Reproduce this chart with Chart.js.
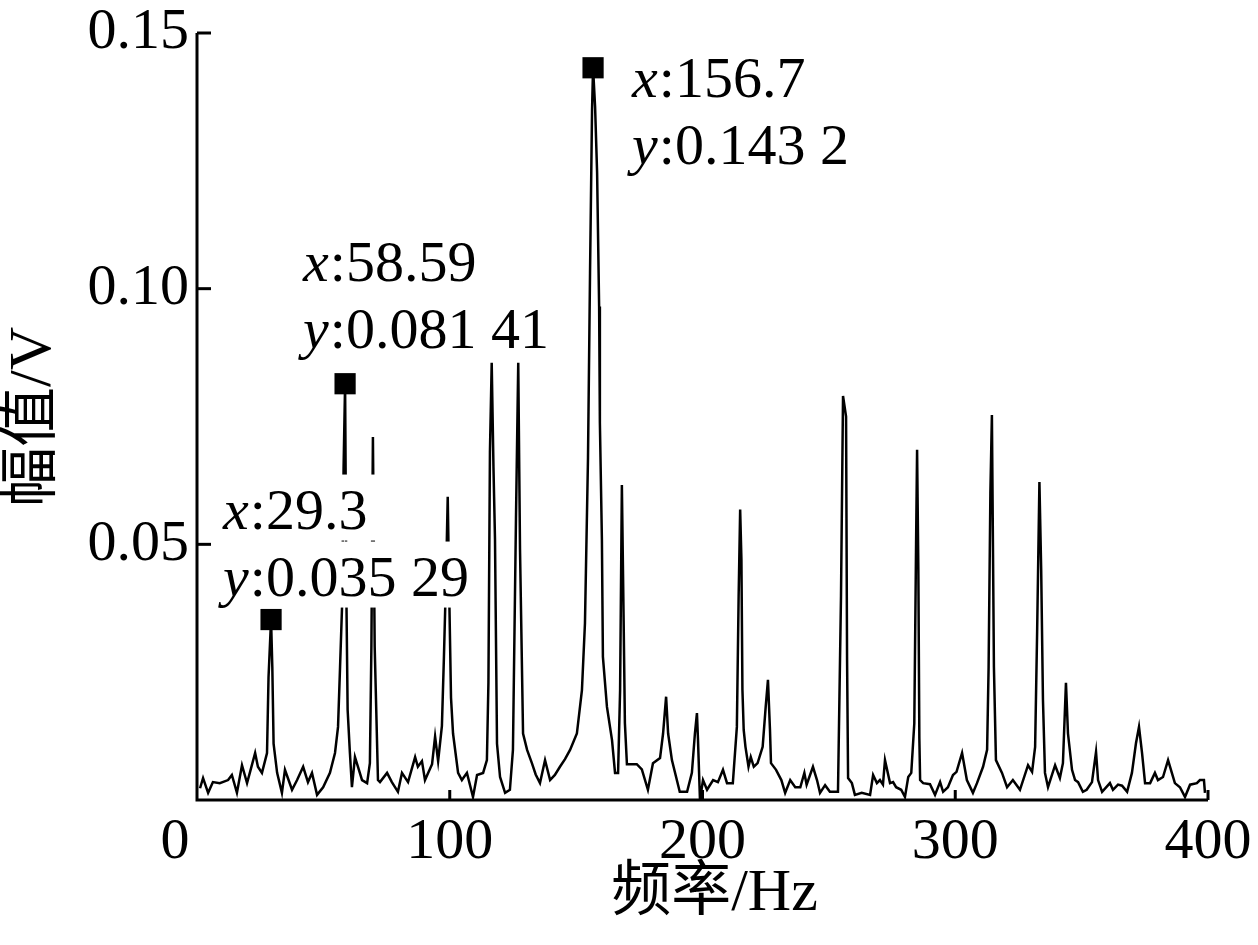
<!DOCTYPE html>
<html>
<head>
<meta charset="utf-8">
<script src="https://cdn.jsdelivr.net/npm/chart.js@4.4.1/dist/chart.umd.min.js"></script>
<style>
  html, body { margin: 0; padding: 0; background: #fff; }
</style>
</head>
<body>
<canvas id="myChart" width="1258" height="945"></canvas>
<script>
// spectrum (Hz / V)
const freq = [
  1.2, 2.4, 4.4, 6.3, 9.0, 12.3, 13.8, 15.8, 17.8, 19.8, 21.0, 23.0, 24.1, 25.7, 27.7, 28.3, 29.3, 29.8, 30.3, 31.7,
  33.6, 34.8, 37.6, 39.6, 42.0, 43.9, 45.5, 47.5, 49.9, 52.6, 54.6, 55.8, 56.6, 57.4, 58.0, 58.59, 59.1, 59.6, 60.5, 61.3,
  62.5, 63.7, 65.3, 67.3, 68.4, 69.0, 69.6, 70.3, 70.8, 71.6, 72.4, 75.2, 77.1, 79.5, 81.1, 83.5, 86.3, 87.4, 89.0, 90.2,
  93.0, 94.2, 95.4, 96.9, 97.7, 98.6, 99.2, 99.8, 100.5, 101.3, 103.3, 104.8, 106.8, 109.2, 110.8, 113.2, 114.7, 115.3, 115.9, 116.6,
  117.3, 117.9, 118.7, 119.9, 121.9, 123.8, 125.0, 126.2, 127.1, 127.8, 129.0, 130.6, 132.5, 134.0, 135.7, 137.7, 139.7, 141.6, 143.6, 145.6,
  147.6, 150.3, 152.3, 153.5, 154.7, 155.5, 156.3, 156.7, 157.5, 158.3, 159.1, 159.4, 160.2, 160.6, 162.2, 164.2, 165.4, 166.6, 167.4, 168.1,
  168.8, 169.3, 170.1, 174.0, 176.0, 178.4, 180.4, 183.2, 184.4, 185.6, 186.4, 187.9, 191.0, 193.9, 195.8, 197.0, 197.8, 198.2, 199.0, 200.2,
  201.8, 204.2, 206.1, 208.1, 209.7, 212.0, 213.6, 214.3, 214.9, 215.4, 215.8, 216.3, 217.0, 218.2, 219.1, 220.3, 221.8, 223.8, 225.0, 225.9,
  226.7, 227.1, 229.1, 231.2, 232.7, 234.7, 236.7, 238.7, 240.3, 241.2, 243.7, 245.3, 246.5, 248.5, 250.4, 253.6, 254.8, 255.6, 256.8, 257.2,
  257.6, 259.1, 260.3, 263.0, 266.3, 267.5, 269.0, 270.2, 271.4, 272.2, 274.2, 275.4, 276.6, 278.6, 280.1, 281.4, 282.6, 283.8, 284.5, 284.9,
  285.4, 285.8, 286.1, 287.3, 290.0, 292.0, 294.0, 295.2, 297.1, 299.1, 300.5, 302.7, 304.6, 307.0, 308.6, 311.0, 312.6, 313.2, 313.9, 314.5,
  315.3, 316.1, 318.5, 320.5, 322.8, 325.6, 328.8, 330.4, 331.6, 332.4, 333.3, 334.0, 334.7, 335.5, 336.7, 339.5, 341.4, 342.6, 343.8, 344.6,
  346.2, 347.4, 348.6, 350.5, 352.0, 354.1, 355.7, 356.5, 358.1, 361.2, 362.4, 364.4, 366.0, 368.0, 369.9, 371.5, 372.7, 373.9, 375.1, 377.1,
  379.0, 380.2, 382.2, 384.2, 385.7, 386.9, 388.9, 390.9, 392.9, 395.6, 396.8, 398.4, 398.8
];
const amp = [
  0.0023, 0.0043, 0.0014, 0.0035, 0.0033, 0.0039, 0.0049, 0.0014, 0.0068, 0.0033, 0.0055, 0.0092, 0.0065, 0.0053, 0.0092, 0.0240, 0.0353, 0.0260, 0.0110, 0.0053,
  0.0014, 0.0059, 0.0020, 0.0039, 0.0065, 0.0035, 0.0053, 0.0010, 0.0025, 0.0053, 0.0092, 0.0143, 0.0260, 0.0380, 0.0650, 0.0814, 0.0400, 0.0176, 0.0092, 0.0025,
  0.0084, 0.0065, 0.0039, 0.0033, 0.0072, 0.0300, 0.0710, 0.0300, 0.0200, 0.0039, 0.0035, 0.0053, 0.0035, 0.0016, 0.0053, 0.0035, 0.0084, 0.0065, 0.0076, 0.0039,
  0.0070, 0.0124, 0.0076, 0.0145, 0.0280, 0.0450, 0.0593, 0.0400, 0.0200, 0.0130, 0.0053, 0.0039, 0.0053, 0.0006, 0.0049, 0.0053, 0.0078, 0.0229, 0.0680, 0.0855,
  0.0650, 0.0510, 0.0110, 0.0045, 0.0014, 0.0020, 0.0098, 0.0550, 0.0855, 0.0490, 0.0130, 0.0098, 0.0072, 0.0050, 0.0033, 0.0078, 0.0039, 0.0049, 0.0065, 0.0080,
  0.0098, 0.0130, 0.0215, 0.0346, 0.0670, 0.1030, 0.1350, 0.1432, 0.1356, 0.1227, 0.0965, 0.0738, 0.0509, 0.0280, 0.0182, 0.0117, 0.0053, 0.0053, 0.0215, 0.0616,
  0.0350, 0.0150, 0.0070, 0.0070, 0.0060, 0.0020, 0.0072, 0.0082, 0.0130, 0.0202, 0.0130, 0.0078, 0.0016, 0.0016, 0.0053, 0.0130, 0.0170, 0.0120, 0.0000, 0.0039,
  0.0020, 0.0039, 0.0035, 0.0059, 0.0033, 0.0033, 0.0143, 0.0400, 0.0568, 0.0470, 0.0215, 0.0137, 0.0104, 0.0065, 0.0084, 0.0065, 0.0072, 0.0104, 0.0182, 0.0235,
  0.0137, 0.0072, 0.0059, 0.0039, 0.0014, 0.0039, 0.0025, 0.0025, 0.0053, 0.0030, 0.0065, 0.0039, 0.0014, 0.0029, 0.0016, 0.0016, 0.0400, 0.0790, 0.0750, 0.0274,
  0.0043, 0.0033, 0.0010, 0.0014, 0.0010, 0.0049, 0.0033, 0.0039, 0.0030, 0.0078, 0.0033, 0.0035, 0.0025, 0.0020, 0.0006, 0.0045, 0.0053, 0.0150, 0.0500, 0.0685,
  0.0450, 0.0120, 0.0039, 0.0033, 0.0031, 0.0010, 0.0035, 0.0016, 0.0025, 0.0049, 0.0055, 0.0092, 0.0039, 0.0014, 0.0033, 0.0065, 0.0098, 0.0260, 0.0600, 0.0753,
  0.0260, 0.0078, 0.0053, 0.0025, 0.0039, 0.0020, 0.0068, 0.0055, 0.0104, 0.0330, 0.0622, 0.0450, 0.0196, 0.0053, 0.0025, 0.0068, 0.0043, 0.0072, 0.0229, 0.0130,
  0.0059, 0.0039, 0.0035, 0.0016, 0.0020, 0.0035, 0.0094, 0.0039, 0.0016, 0.0033, 0.0020, 0.0030, 0.0028, 0.0016, 0.0053, 0.0111, 0.0143, 0.0092, 0.0033, 0.0033,
  0.0053, 0.0039, 0.0045, 0.0078, 0.0053, 0.0033, 0.0025, 0.0006, 0.0030, 0.0033, 0.0039, 0.0039, 0.0014
];

// marked peaks
const markFreq = [29.3, 58.59, 156.7];
const markAmp = [0.03529, 0.08141, 0.1432];
const markX = ["29.3", "58.59", "156.7"];
const markY = ["0.035 29", "0.081 41", "0.143 2"];

const xTicks = [0, 100, 200, 300, 400];
const xTickLabels = ["0", "100", "200", "300", "400"];
const yTicks = [0.05, 0.10, 0.15];
const yTickLabels = ["0.05", "0.10", "0.15"];
const xTitle = "频率/Hz";
const yTitle = "幅值/V";

const FONT = '"Liberation Serif", "Times New Roman", "Noto Sans CJK SC", serif';
// label box offset from its marker (px): left, first baseline
const labelOffset = [[-48, -91], [-42, -103], [39, 29]];
const lineGap = 67;

const points = freq.map((f, i) => ({ x: f, y: amp[i] }));
const marks = markFreq.map((f, i) => ({ x: f, y: markAmp[i] }));

const decor = {
  id: "decor",
  afterDatasetsDraw(chart) {
    const c = chart.ctx;
    const xs = chart.scales.x;
    const ys = chart.scales.y;
    const area = chart.chartArea;
    c.save();

    // peak labels, white box behind each line of text
    marks.forEach((m, i) => {
      const px = xs.getPixelForValue(m.x);
      const py = ys.getPixelForValue(m.y);
      const left = px + labelOffset[i][0];
      const base = py + labelOffset[i][1];
      [["x", ":" + markX[i]], ["y", ":" + markY[i]]].forEach((parts, k) => {
        const by = base + k * lineGap;
        c.font = "italic 58px " + FONT;
        const w1 = c.measureText(parts[0]).width;
        c.font = "58px " + FONT;
        const m2 = c.measureText(parts[1]);
        const asc = 54;
        const desc = 12;
        c.fillStyle = "#fff";
        c.fillRect(left - 4, by - asc, w1 + m2.width + 16, asc + desc);
        c.fillStyle = "#000";
        c.textBaseline = "alphabetic";
        c.textAlign = "left";
        c.font = "italic 58px " + FONT;
        c.fillText(parts[0], left, by);
        c.font = "58px " + FONT;
        c.fillText(parts[1], left + w1 + 1, by);
      });
    });

    // axes
    c.strokeStyle = "#000";
    c.lineWidth = 3;
    c.beginPath();
    c.moveTo(area.left, area.top);
    c.lineTo(area.left, area.bottom);
    c.lineTo(area.right, area.bottom);
    c.stroke();

    // inward ticks
    yTicks.forEach(v => {
      const y = ys.getPixelForValue(v);
      c.beginPath();
      c.moveTo(area.left, y);
      c.lineTo(area.left + 14, y);
      c.stroke();
    });
    xTicks.forEach(v => {
      if (v === 0) return;
      const x = xs.getPixelForValue(v);
      c.beginPath();
      c.moveTo(x, area.bottom);
      c.lineTo(x, area.bottom - 10);
      c.stroke();
    });

    // tick labels
    c.fillStyle = "#000";
    c.font = "58px " + FONT;
    c.textAlign = "right";
    c.textBaseline = "middle";
    yTicks.forEach((v, i) => {
      c.fillText(yTickLabels[i], area.left - 8, ys.getPixelForValue(v));
    });
    c.textAlign = "center";
    c.textBaseline = "alphabetic";
    xTicks.forEach((v, i) => {
      let x = xs.getPixelForValue(v);
      if (v === 0) x -= 22;
      c.fillText(xTickLabels[i], x, area.bottom + 58);
    });

    // axis titles
    c.font = "60px " + FONT;
    c.fillText(xTitle, (area.left + area.right) / 2 + 12, area.bottom + 110);
    c.save();
    c.translate(34, 417);
    c.rotate(-Math.PI / 2);
    c.textBaseline = "middle";
    c.fillText(yTitle, 0, 0);
    c.restore();

    c.restore();
  }
};

const ctx = document.getElementById("myChart").getContext("2d");
const myChart = new Chart(ctx, {
  type: "scatter",
  data: {
    datasets: [
      {
        data: marks,
        pointStyle: "rect",
        pointRadius: 15,
        pointBackgroundColor: "#000",
        pointBorderWidth: 0,
        showLine: false,
        order: 0,
      },
      {
        data: points,
        showLine: true,
        borderColor: "#000",
        borderWidth: 2.5,
        pointRadius: 0,
        tension: 0,
        order: 1,
      },
    ],
  },
  options: {
    responsive: false,
    animation: false,
    devicePixelRatio: 1,
    layout: { padding: { top: 33, right: 50, left: 0, bottom: 0 } },
    plugins: { legend: { display: false }, tooltip: { enabled: false } },
    scales: {
      x: {
        type: "linear",
        min: 0,
        max: 400,
        grid: { display: false },
        border: { display: false },
        ticks: { display: false },
        afterFit: (s) => { s.height = 145; },
      },
      y: {
        min: 0,
        max: 0.15,
        grid: { display: false },
        border: { display: false },
        ticks: { display: false },
        afterFit: (s) => { s.width = 197; },
      },
    },
  },
  plugins: [decor],
});
</script>
</body>
</html>
